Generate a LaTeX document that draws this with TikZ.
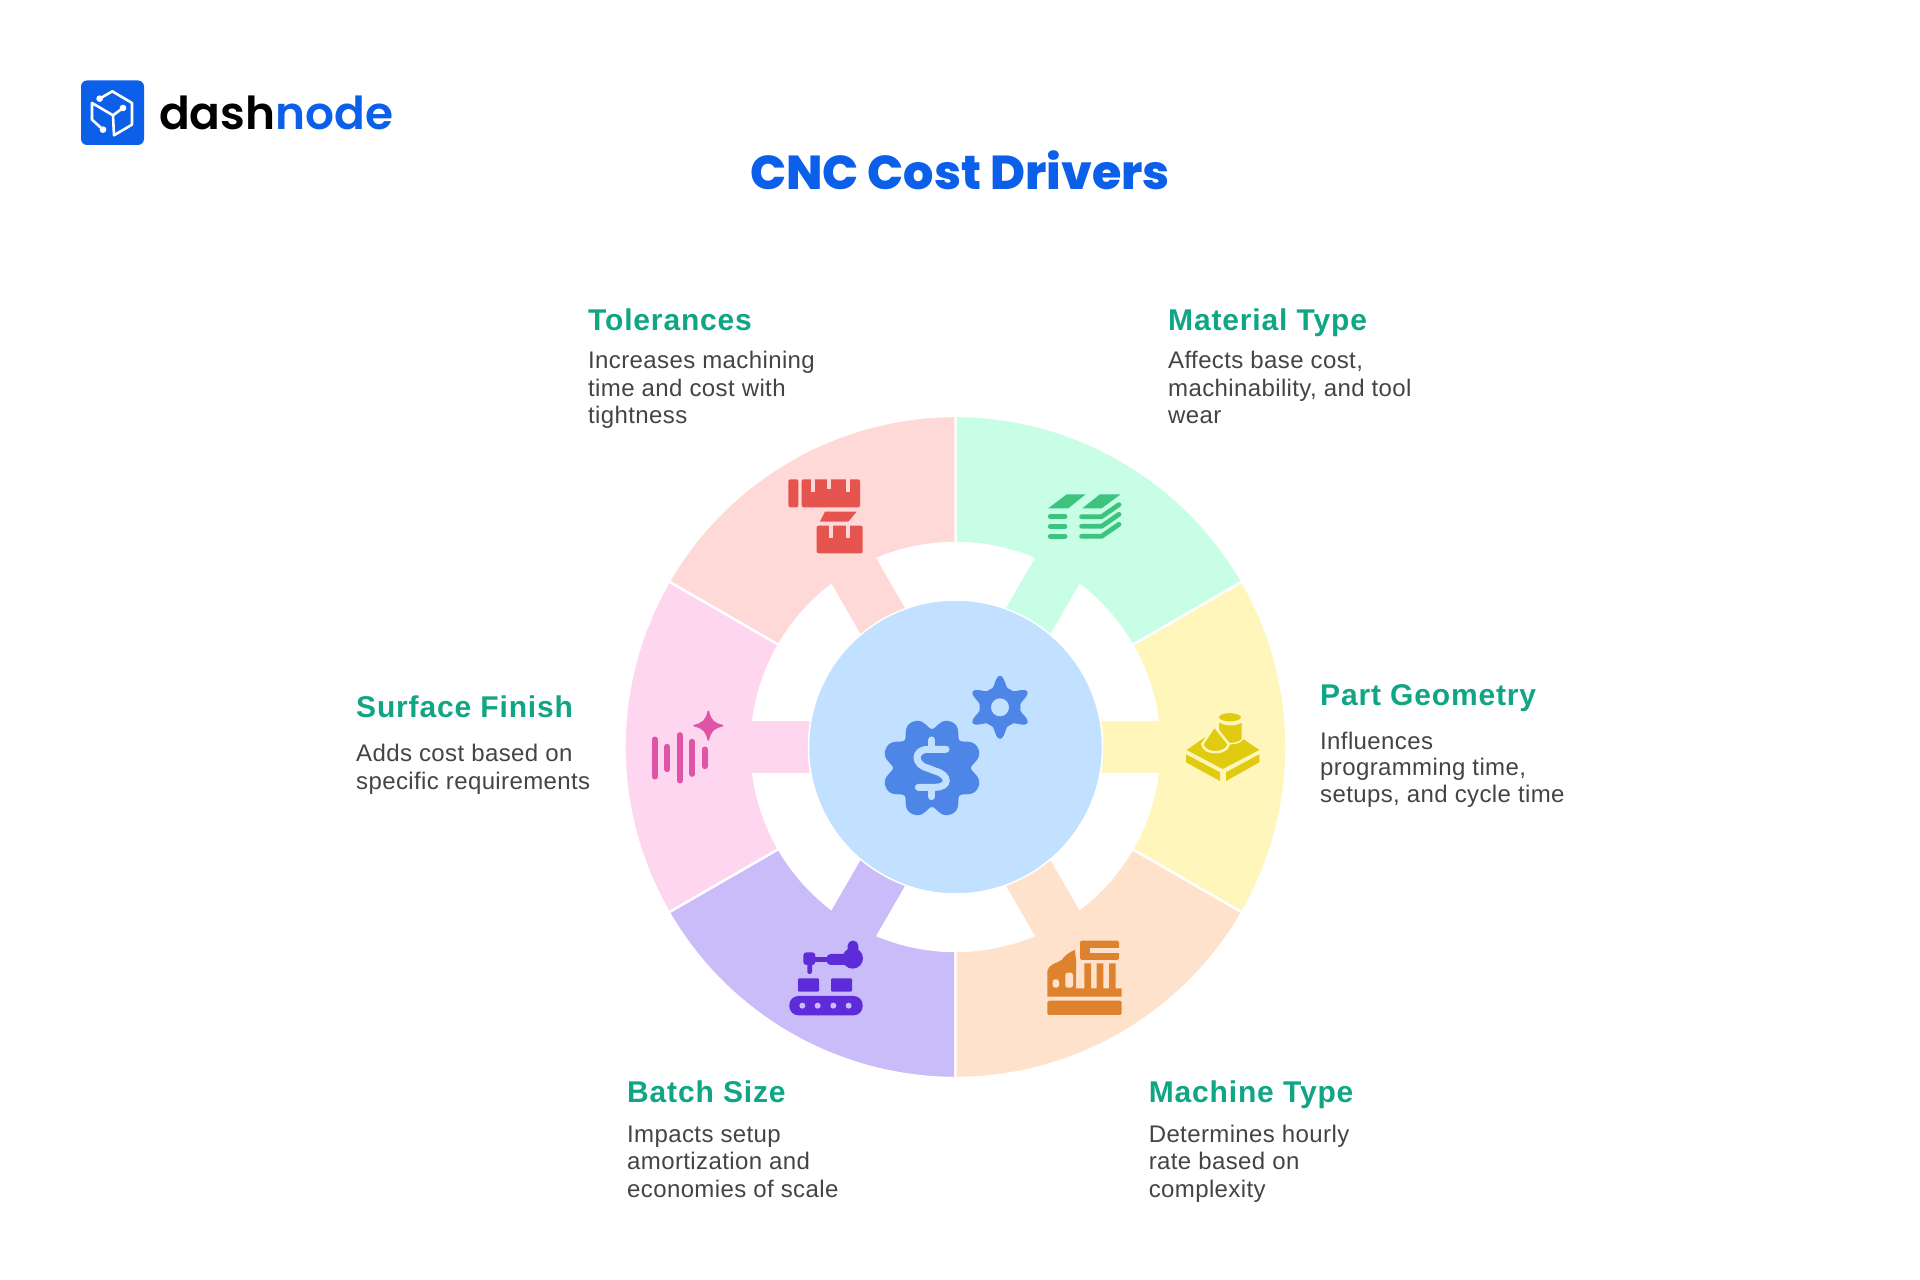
\documentclass[tikz,border=0pt]{standalone}
\usepackage{fontspec}
\setmainfont{Liberation Sans}
\newfontfamily\brandfont[UprightFont=* SemiBold,BoldFont=* ExtraBold]{Poppins}
\newfontfamily\deskfont[LetterSpace=1.6]{Liberation Sans}
\newfontfamily\headfont[LetterSpace=2.8]{Liberation Sans}
\definecolor{brandblue}{HTML}{0B5FE8}
\definecolor{headgreen}{HTML}{10A585}
\definecolor{desktext}{HTML}{444444}
\definecolor{hubfill}{HTML}{C2E0FF}
\definecolor{hubink}{HTML}{4D86E6}
\definecolor{tolfill}{HTML}{FFD8D8}
\definecolor{tolink}{HTML}{E5544F}
\definecolor{matfill}{HTML}{C8FDE6}
\definecolor{matink}{HTML}{3CC47F}
\definecolor{partfill}{HTML}{FEF6BB}
\definecolor{partink}{HTML}{E0CB10}
\definecolor{machfill}{HTML}{FFE2CC}
\definecolor{machink}{HTML}{DE822E}
\definecolor{batchfill}{HTML}{C9BCF8}
\definecolor{batchink}{HTML}{5E2BD9}
\definecolor{surffill}{HTML}{FFD6F0}
\definecolor{surfink}{HTML}{DE55A6}
\usetikzlibrary{arrows.meta,positioning}
\tikzset{
  px/.style={shift={(0,1280)},yscale=-1},
  crop/.style={shift={#1},scale=0.3333},
  head/.style={anchor=base west,inner sep=0,text=headgreen,font=\fontsize{30}{36}\selectfont\headfont\bfseries},
  desk/.style={anchor=base west,inner sep=0,align=left,text=desktext,font=\fontsize{24}{27.5}\selectfont\deskfont},
}
\begin{document}
\begin{tikzpicture}[x=1pt,y=1pt]
  \useasboundingbox (0,0) rectangle (1920,1280);
  \fill[white] (0,0) rectangle (1920,1280);
  \foreach \a/\c in {0/partfill,60/matfill,120/tolfill,180/surffill,240/batchfill,300/machfill} {
    \begin{scope}[shift={(955.5,533)},rotate=\a]
      \filldraw[fill=\c,draw=white,line width=2.4] (-30:331) arc[start angle=-30,end angle=30,radius=331]
        -- (30:204) arc[start angle=30,end angle=7.6,radius=204] -- (140,27) -- (140,-27)
        -- (-7.6:204) arc[start angle=-7.6,end angle=-30,radius=204] -- cycle;
    \end{scope}
  }
  \node[circle,fill=hubfill,draw=white,line width=1.5,minimum size=294,inner sep=0] (hub) at (955.5,533) {};
  \begin{scope}[px]
    \fill[brandblue,rounded corners=6] (81,80.5) rectangle (144,145);
    \begin{scope}[crop={(78,78)},white,line width=2.6,line cap=round,line join=round]
      \draw (65,62) -- (103,40) -- (162,75) -- (162,140) -- (108,172) -- (105,112) -- (135,90);
      \draw (105,112) -- (42,75) -- (42,125) -- (75,155);
      \foreach \x/\y in {65/62,135/90,75/155} \fill (\x,\y) circle (10);
    \end{scope}
    \node[anchor=base west,inner sep=0,font=\fontsize{45.4}{50}\selectfont\brandfont] (logo) at (159,130) {\color{black}dash\color{brandblue}node};
    \node[anchor=base,inner sep=0,text=brandblue,font=\fontsize{47.6}{50}\selectfont\brandfont\bfseries] (title) at (960,190) {CNC Cost Drivers};

    \node[head] (tolHead) at (588,330.5) {Tolerances};
    \node[desk] (tolDesk) at (588,423.6) {Increases machining\\time and cost with\\tightness};
    \node[head] (matHead) at (1168,330.5) {Material Type};
    \node[desk] (matDesk) at (1168,423.6) {Affects base cost,\\machinability, and tool\\wear};
    \node[head] (partHead) at (1320,705.8) {Part Geometry};
    \node[desk] (partDesk) at (1320,802.5) {Influences\\[-1pt]programming time,\\[-1pt]setups, and cycle time};
    \node[head] (surfHead) at (356,718) {Surface Finish};
    \node[desk] (surfDesk) at (356,789.2) {Adds cost based on\\specific requirements};
    \node[head] (batchHead) at (627,1102.5) {Batch Size};
    \node[desk] (batchDesk) at (627,1197.5) {Impacts setup\\amortization and\\economies of scale};
    \node[head] (machHead) at (1148.6,1102.5) {Machine Type};
    \node[desk] (machDesk) at (1148.6,1197.5) {Determines hourly\\rate based on\\complexity};

    \begin{scope}[crop={(770,460)}]
      \fill[tolink,rounded corners=2] (55,58) rectangle (85,142);
      \fill[tolink,rounded corners=2] (95,58) rectangle (270,142);
      \fill[tolink,rounded corners=2] (140,197) rectangle (278,280);
      \fill[tolink] (165,155) -- (260,155) -- (235,185) -- (150,185) -- cycle;
      \foreach \x/\y/\t in {122/97/58,170/88/58,227/97/58,178/235/197,228/235/197}
        \fill[tolfill] (\x,\t-2) rectangle (\x+12,\y);
      \fill[matink] (890,103) -- (947,103) -- (895,145) -- (835,145) -- cycle;
      \fill[matink] (990,103) -- (1052,103) -- (995,145) -- (937,145) -- cycle;
      \foreach \y in {170,199,229} {
        \draw[matink,line width=4.8,line cap=round] (841,\y) -- (885,\y);
        \draw[matink,line width=4.8,line cap=round,line join=round] (935,\y) -- (995,\y) -- (1047,\y-36);
      }
    \end{scope}

    \begin{scope}[crop={(1170,700)}]
      \fill[partink] (50,150) -- (158,75) -- (268,150) -- (158,207) -- cycle;
      \fill[partink] (48,163) -- (150,217) -- (150,243) -- (48,187) -- cycle;
      \fill[partink] (168,217) -- (268,163) -- (268,187) -- (168,243) -- cycle;
      \filldraw[fill=partink,draw=partfill,line width=1.5] (145,62) -- (145,118) .. controls (160,135) and (205,135) .. (217,118) -- (217,62) .. controls (205,78) and (160,78) .. cycle;
      \filldraw[fill=partink,draw=partfill,line width=1.5] (180,52) ellipse[x radius=36,y radius=15];
      \filldraw[fill=partink,draw=partfill,line width=2.5] (133,78) -- (97,132) .. controls (100,165) and (172,165) .. (176,132) -- cycle;
    \end{scope}

    \begin{scope}[crop={(1040,935)}]
      \fill[machink,rounded corners=1.5] (22,197) rectangle (245,240);
      \fill[machink] (22,185) -- (22,108) .. controls (25,88) and (50,85) .. (65,75) .. controls (75,60) and (90,50) .. (105,45) -- (108,75) -- (108,160) -- (133,160) -- (133,85) -- (153,85) -- (153,160) -- (170,160) -- (170,85) -- (190,85) -- (190,160) -- (207,160) -- (207,85) -- (227,85) -- (227,160) -- (245,160) -- (245,185) -- cycle;
      \fill[machink,rounded corners=1.5] (120,17) rectangle (237,75);
      \fill[machfill] (150,38) rectangle (240,55);
      \fill[machfill,rounded corners=2.5] (38,158) -- (38,133) -- (57,133) -- (57,158) -- cycle;
      \fill[machfill,rounded corners=2.5] (76,158) -- (76,113) -- (99,113) -- (99,158) -- cycle;
    \end{scope}

    \begin{scope}[crop={(770,930)}]
      \fill[batchink,rounded corners=9] (58,198) rectangle (278,256);
      \foreach \x in {97,143,190,236} \fill[batchfill] (\x,227) circle (9);
      \fill[batchink,rounded corners=1] (84,145) rectangle (147,185);
      \fill[batchink,rounded corners=1] (183,145) rectangle (246,185);
      \fill[batchink,rounded corners=3] (100,67) rectangle (136,105);
      \fill[batchink,rounded corners=1.5] (112,100) rectangle (126,132);
      \fill[batchink] (130,80) rectangle (180,95);
      \fill[batchink,rounded corners=4] (170,72) rectangle (250,105);
      \fill[batchink,rounded corners=5] (233,32) rectangle (265,90);
      \fill[batchink] (248,85) circle (31);
    \end{scope}

    \begin{scope}[shift={(932,768)}]
      \fill[hubink] plot[domain=0:360,samples=145,smooth cycle] (\x:{45.5+5.5*cos(8*(\x-22.5))-1*cos(16*(\x-22.5))});
    \end{scope}
    \begin{scope}[crop={(860,660)},hubfill,line width=7,line cap=round]
      \draw (258,268) -- (205,268) .. controls (160,268) and (160,315) .. (205,325) -- (225,333) .. controls (270,345) and (270,382) .. (225,382) -- (175,382);
      \draw (215,240) -- (215,265);
      \draw (215,385) -- (215,410);
    \end{scope}
    \begin{scope}[shift={(1000,707.3)}]
      \fill[hubink] plot[domain=0:360,samples=145,smooth cycle] (\x:{24.5+5.5*cos(6*(\x-90))+1.5*cos(12*(\x-90))});
      \fill[hubfill] (0,0) circle (9);
    \end{scope}

    \begin{scope}[crop={(640,700)},surfink,line width=5.7,line cap=round]
      \foreach \x/\t/\b in {44/118/230,82/140/208,119/105/242,157/125/222,194/148/199}
        \draw (\x,\t) -- (\x,\b);
      \filldraw[line width=1.5,line join=round] (205,34) .. controls (212,62) and (220,70) .. (248,77) .. controls (220,84) and (212,92) .. (205,120) .. controls (198,92) and (190,84) .. (162,77) .. controls (190,70) and (198,62) .. cycle;
    \end{scope}
  \end{scope}
\end{tikzpicture}
\end{document}
